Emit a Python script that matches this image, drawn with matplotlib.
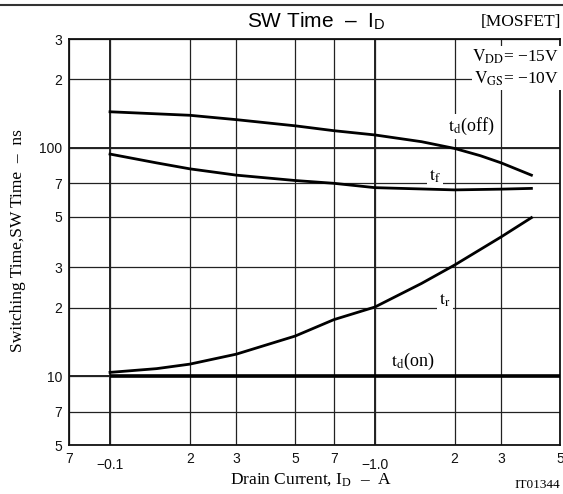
import numpy as np
import matplotlib
matplotlib.use("Agg")
import matplotlib.pyplot as plt
from matplotlib.transforms import ScaledTranslation

plt.rcParams['font.family'] = ['Liberation Sans', 'DejaVu Sans']
plt.rcParams['mathtext.fontset'] = 'stix'

## values (drain current in A, time in ns)
offX = [0.1, 0.2, 0.3, 0.5, 0.7, 1.0, 1.5, 2.0, 2.5, 3.0, 3.9]
tdOff = [144, 139, 133, 125, 119, 114, 106.5, 99.5, 92.5, 86, 76]
fallX = [0.1, 0.15, 0.2, 0.3, 0.5, 0.7, 1.0, 2.0, 3.0, 3.9]
tFall = [94, 86, 81, 76, 72, 70, 67, 65.5, 66, 66.5]
riseX = [0.1, 0.15, 0.2, 0.3, 0.5, 0.7, 1.0, 1.5, 2.0, 3.0, 3.9]
tRise = [10.4, 10.8, 11.3, 12.5, 15.0, 17.7, 20.1, 25.5, 30.7, 40.8, 49.5]
onX = [0.1, 5.0]
tdOn = [10, 10]

xTicks = [0.07, 0.1, 0.2, 0.3, 0.5, 0.7, 1.0, 2, 3, 5]
xLabels = ["7", "\u22120.1", "2", "3", "5", "7", "\u22121.0", "2", "3", "5"]
yTicks = [5, 7, 10, 20, 30, 50, 70, 100, 200, 300]
yLabels = ["5", "7", "10", "2", "3", "5", "7", "100", "2", "3"]
decadeX = [0.1, 1.0]
decadeY = [10, 100]

serif = ['Liberation Serif', 'DejaVu Serif']
MINUS = "\u2212"
DASH = "\u2013"

fig = plt.figure(figsize=(5.63, 4.94), dpi=100)
ax = fig.add_axes([69/563, 49/494, 491/563, 406/494])

ax.set_xscale('log')
ax.set_yscale('log')
ax.set_xlim(0.07, 5)
ax.set_ylim(5, 300)

ax.set_xticks(xTicks, xLabels)
ax.set_yticks(yTicks, yLabels)
ax.minorticks_off()
ax.tick_params(length=0, labelsize=10, pad=5, colors='#111')

# the two "-0.1 / -1.0" labels sit a bit lower than the others
shift = ScaledTranslation(0, -4/72, fig.dpi_scale_trans)
for lab in ax.get_xticklabels():
    if lab.get_text().startswith(MINUS):
        lab.set_transform(lab.get_transform() + shift)

ax.grid(True, color='#222222', lw=0.9)
for xv in decadeX:
    ax.axvline(xv, color='#111111', lw=1.3, zorder=1)
for yv in decadeY:
    ax.axhline(yv, color='#111111', lw=1.3, zorder=1)
for s in ax.spines.values():
    s.set_linewidth(1.3)
    s.set_color('#111111')

ax.plot(offX, tdOff, color='black', lw=2.0, zorder=3)
ax.plot(fallX, tFall, color='black', lw=2.0, zorder=3)
ax.plot(riseX, tRise, color='black', lw=2.0, zorder=3)
ax.plot(onX, tdOn, color='black', lw=2.6, zorder=3, solid_capstyle='butt')

box = dict(facecolor='white', edgecolor='none', pad=1.5)
ax.text(2.31, 124, r"$\mathrm{t_d}$(off)", family=serif, fontsize=13, ha='center', va='center', bbox=box, zorder=4)
ax.text(1.69, 75.5, r"$\mathrm{t_f}$", family=serif, fontsize=13, ha='center', va='center', bbox=box, zorder=4)
ax.text(1.84, 21.5, r"$\mathrm{t_r}$", family=serif, fontsize=13, ha='center', va='center', bbox=box, zorder=4)
ax.text(1.39, 11.6, r"$\mathrm{t_d}$(on)", family=serif, fontsize=13, ha='center', va='center', zorder=4)

ax.text(0.998, 0.956, r"$\mathrm{V_{DD}}$= " + MINUS + "15V", family=serif, fontsize=12.5,
        ha='right', va='center', transform=ax.transAxes, bbox=box, zorder=4)
ax.text(0.998, 0.902, r"$\mathrm{V_{GS}}$= " + MINUS + "10V", family=serif, fontsize=12.5,
        ha='right', va='center', transform=ax.transAxes, bbox=box, zorder=4)

# header rule, title and tags
fig.add_artist(plt.Line2D([0, 1], [0.99, 0.99], color='#333333', lw=1.5))
fig.text(0.561, 0.958, "SW Time  " + DASH + r"  I$_\mathregular{D}$", fontsize=15, ha='center', va='center')
fig.text(0.997, 0.955, "[MOSFET]", family=serif, fontsize=12.5, ha='right', va='center')

fig.text(0.553, 0.03, r"Drain Current, I$_\mathregular{D}$  " + DASH + "  A", family=serif, fontsize=12.5,
         ha='center', va='center')
fig.text(0.032, 0.514, "Switching Time,SW Time  " + DASH + "  ns", family=serif, fontsize=12.5,
         ha='center', va='center', rotation=90)
fig.text(0.995, 0.018, "IT01344", family=serif, fontsize=9.5, ha='right', va='center')

fig.savefig("out.png", dpi=100)
